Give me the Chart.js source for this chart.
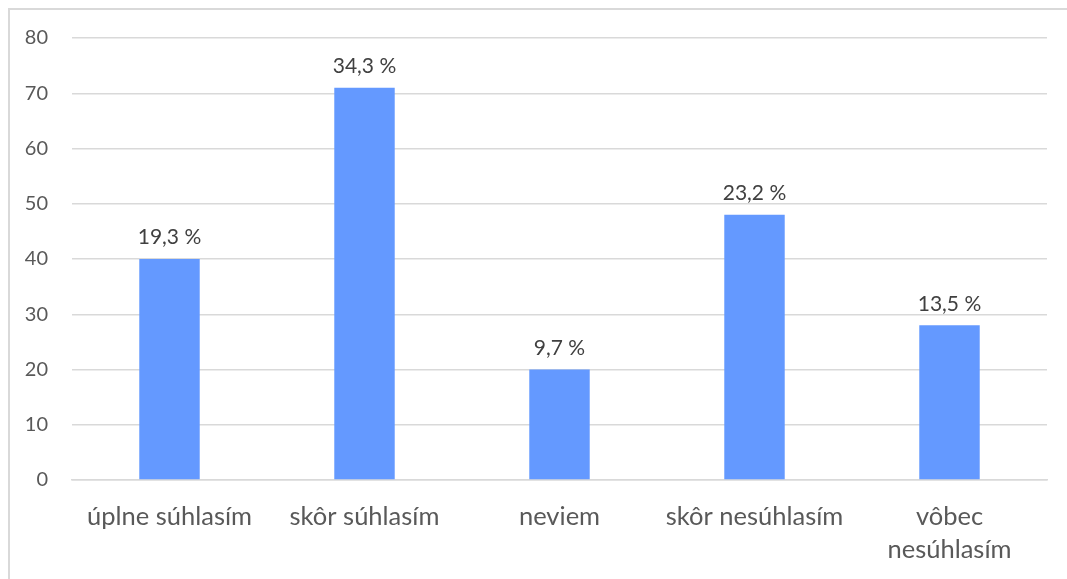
<!DOCTYPE html>
<html>
<head>
<meta charset="utf-8">
<script src="https://cdn.jsdelivr.net/npm/chart.js@4"></script>
<style>
    body { margin: 0; background: #fff; }
    #frame { position: absolute; left: 8px; top: 8px; width: 1100px; height: 600px;
             border-left: 2px solid #d9d9d9; border-top: 2px solid #d9d9d9; }
    #wrap { position: absolute; left: 0; top: 0; width: 1067px; height: 579px; }
</style>
</head>
<body>
<div id="frame"></div>
<div id="wrap"><canvas id="myChart"></canvas></div>
<script>
// data
const categories = ['úplne súhlasím', 'skôr súhlasím', 'neviem', 'skôr nesúhlasím', ['vôbec', 'nesúhlasím']];
const counts = [40, 71, 20, 48, 28];
const percentLabels = ['19,3 %', '34,3 %', '9,7 %', '23,2 %', '13,5 %'];
const yTicks = [0, 10, 20, 30, 40, 50, 60, 70, 80];

const textColor = '#595959';
const fontFamily = 'Lato, "Open Sans", sans-serif';

// draws the percent text above each bar
const barLabels = {
    id: 'barLabels',
    afterDatasetsDraw(chart) {
        const ctx = chart.ctx;
        const meta = chart.getDatasetMeta(0);
        ctx.save();
        ctx.font = '21px ' + fontFamily;
        ctx.fillStyle = '#404040';
        ctx.textAlign = 'center';
        ctx.textBaseline = 'bottom';
        meta.data.forEach(function (bar, i) {
            ctx.fillText(percentLabels[i], bar.x, bar.y - 11);
        });
        ctx.restore();
    }
};

document.addEventListener('DOMContentLoaded', function () {
    var ctx = document.getElementById('myChart').getContext('2d');
    var myChart = new Chart(ctx, {
        type: 'bar',
        data: {
            labels: categories,
            datasets: [{
                data: counts,
                backgroundColor: '#6499ff',
                categoryPercentage: 1,
                barPercentage: 0.31
            }]
        },
        options: {
            responsive: true,
            maintainAspectRatio: false,
            animation: false,
            layout: { padding: { left: 0, right: 20, top: 38, bottom: 0 } },
            plugins: {
                legend: { display: false },
                tooltip: { enabled: false }
            },
            scales: {
                x: {
                    grid: { display: false, drawTicks: false },
                    border: { color: '#d9d9d9', width: 1.5 },
                    ticks: {
                        color: textColor,
                        font: { family: fontFamily, size: 25.5, lineHeight: 1.3 },
                        padding: 20,
                        maxRotation: 0
                    },
                    afterFit(scale) { scale.height = 99; }
                },
                y: {
                    min: 0,
                    max: 80,
                    afterBuildTicks(scale) { scale.ticks = yTicks.map(v => ({ value: v })); },
                    grid: { color: '#d9d9d9', lineWidth: 1.5, drawTicks: false },
                    border: { display: false },
                    ticks: {
                        color: textColor,
                        font: { family: fontFamily, size: 20 },
                        padding: 24
                    },
                    afterFit(scale) { scale.width = 72; }
                }
            }
        },
        plugins: [barLabels]
    });
});
</script>
</body>
</html>
